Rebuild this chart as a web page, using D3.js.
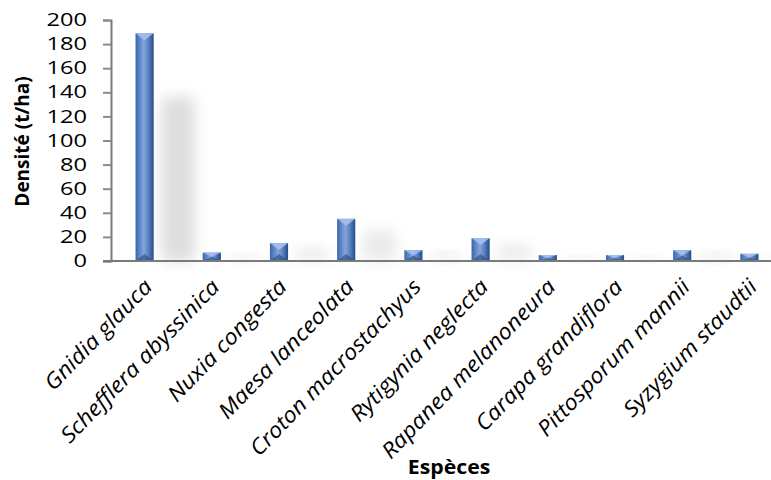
<!DOCTYPE html>
<html>
<head>
<meta charset="utf-8">
<script src="https://cdn.jsdelivr.net/npm/d3@7/dist/d3.min.js"></script>
<style>
  html, body { margin: 0; padding: 0; background: #fff; }
  svg { display: block; }
  text { font-family: "Open Sans", "Noto Sans", sans-serif; fill: #000; }
</style>
</head>
<body>
<svg id="chart" width="771" height="480"></svg>
<script>
// Densité par espèce (t/ha)
const species = [
  "Gnidia glauca", "Schefflera abyssinica", "Nuxia congesta", "Maesa lanceolata",
  "Croton macrostachyus", "Rytigynia neglecta", "Rapanea melanoneura",
  "Carapa grandiflora", "Pittosporum mannii", "Syzygium staudtii"
];
const density = [189, 7, 15, 35, 9, 19, 5, 5, 9, 6];
const yTicks = [0, 20, 40, 60, 80, 100, 120, 140, 160, 180, 200];
const yTitle = "Densité (t/ha)";
const xTitle = "Espèces";

const svg = d3.select("#chart");
const margin = { left: 111, right: -12, top: 20, bottom: 219 };
const W = 771, H = 480;

const x = d3.scaleBand()
  .domain(species)
  .range([margin.left, W - margin.right])
  .paddingInner(0.73)
  .paddingOuter(0.365);
const y = d3.scaleLinear().domain([0, 200]).range([H - margin.bottom, margin.top]);

const defs = svg.append("defs");
const grad = defs.append("linearGradient").attr("id", "barFill")
  .attr("x1", "0").attr("x2", "1").attr("y1", "0").attr("y2", "0");
[[0, "#3a64a6"], [0.12, "#4a78bd"], [0.45, "#86a5da"], [0.7, "#5a83c4"], [1, "#244a86"]]
  .forEach(([o, c]) => grad.append("stop").attr("offset", o).attr("stop-color", c));
const blur = defs.append("filter").attr("id", "soft")
  .attr("x", "-100%").attr("y", "-50%").attr("width", "300%").attr("height", "200%");
blur.append("feGaussianBlur").attr("stdDeviation", 7);

// soft cast shadows behind the bars
svg.append("g").selectAll("rect").data(density).join("rect")
  .attr("x", (d, i) => x(species[i]) + x.bandwidth() + 8)
  .attr("width", x.bandwidth() * 1.8)
  .attr("y", d => y(d * 0.72))
  .attr("height", d => y(0) - y(d * 0.72))
  .attr("fill", "#d2d2d2")
  .attr("opacity", d => d > 50 ? 0.75 : 0.45)
  .attr("filter", "url(#soft)");

// y axis (labels widened horizontally)
const yAxis = svg.append("g")
  .attr("transform", `translate(${margin.left},0)`)
  .call(d3.axisLeft(y).tickValues(yTicks).tickSize(8).tickPadding(16).tickFormat(d3.format("d")));
yAxis.select(".domain").attr("stroke", "#7a7a7a").attr("stroke-width", 2);
yAxis.selectAll(".tick line").attr("stroke", "#8a8a8a").attr("stroke-width", 2);
yAxis.selectAll(".tick text")
  .attr("x", 0)
  .attr("transform", "translate(-24,0) scale(1.35,1)")
  .attr("font-size", 17.5)
  .style("font-family", "'Open Sans', sans-serif");

// bars with bevelled tops
const bars = svg.append("g").selectAll("g").data(density).join("g")
  .attr("transform", (d, i) => `translate(${x(species[i])},${y(d)})`);
bars.append("rect")
  .attr("width", x.bandwidth())
  .attr("height", d => y(0) - y(d))
  .attr("fill", "url(#barFill)");
bars.append("path")
  .attr("d", d => {
    const w = x.bandwidth(), h = y(0) - y(d), b = Math.min(w / 2, h / 2, 7);
    return `M0,0 L${w},0 L${w / 2},${b} Z`;
  })
  .attr("fill", "#a9c2ee").attr("opacity", 0.85);
bars.append("path")
  .attr("d", d => {
    const w = x.bandwidth(), h = y(0) - y(d), b = Math.min(w / 2, h / 2, 7);
    return `M0,${h} L${w},${h} L${w / 2},${h - b} Z`;
  })
  .attr("fill", "#1f3f74").attr("opacity", 0.55);

// x axis baseline
svg.append("line")
  .attr("x1", margin.left - 8).attr("x2", W)
  .attr("y1", y(0)).attr("y2", y(0))
  .attr("stroke", "#7a7a7a").attr("stroke-width", 2);

// category labels
svg.append("g").selectAll("text").data(species).join("text")
  .attr("transform", d => `translate(${x(d) + x.bandwidth() / 2 + 9},${y(0) + 27}) rotate(-46) scale(1.1,1)`)
  .attr("text-anchor", "end")
  .attr("font-size", 21.5)
  .attr("font-style", "italic")
  .text(d => d);

// axis titles
svg.append("text")
  .attr("transform", `translate(29,${(y(0) + y(200)) / 2 + 1}) rotate(-90)`)
  .attr("text-anchor", "middle")
  .attr("font-size", 19).attr("font-weight", "bold")
  .text(yTitle);
svg.append("text")
  .attr("transform", "translate(449,474) scale(1.12,1)")
  .attr("text-anchor", "middle")
  .attr("font-size", 19).attr("font-weight", "bold")
  .text(xTitle);
</script>
</body>
</html>
